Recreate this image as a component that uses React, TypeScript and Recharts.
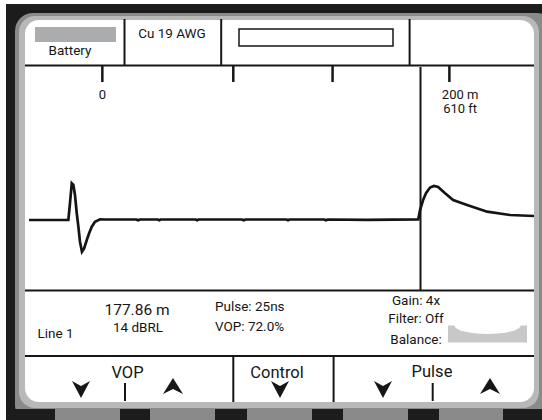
import { LineChart, Line, XAxis, YAxis, ReferenceLine } from "recharts";

// trace: distance in metres, reflection level (arbitrary units, 0 = baseline)
const distanceM = [
  -41, -19.0, -18.1, -17.1, -16.2, -15.3, -14.3, -13.4, -12.5, -11.4, -10.2, -8.7, -7.4, -5.9,
  -4.1, -1.3, 1.5, 19.0, 20.0, 21.0, 31.0, 31.8, 32.6, 52.2, 53.0, 53.8, 78.0, 79.0, 80.0, 103.0,
  103.8, 104.6, 124.0, 125.0, 126.0, 148.0, 176.6, 177.6, 179.3, 181.0, 183.2, 185.4, 187.7,
  191.6, 196.1, 203.9, 215.1, 227.9, 241.3,
];
const level = [
  -0.5, -0.5, 16.2, 36.2, 34.5, 24.5, 6.2, -7.2, -22.2, -32.2, -28.8, -20.5, -13.8, -7.2,
  -2.2, 0.2, 0, 0, -0.8, 0, 0, -0.8, 0, 0, -0.8, 0, 0, -0.8, 0, 0,
  -0.8, 0, 0, -0.8, 0, -0.3, 0.2, 9.5, 19.5, 26.5, 32, 33.5, 32.5,
  26.2, 19.5, 14.5, 7.8, 4.5, 3.5,
];

const tickMarks = [0, 73.2, 128.7, 194.0];
const scaleLabels: Record<number, string[]> = { 0: ["0"], 200: ["200 m", "610 ft"] };
const cursorM = 177.86;

const header = { cable: "Cu 19 AWG", battery: "Battery" };
const readout = { distance: "177.86 m", loss: "14 dBRL", line: "Line 1" };
const settings = ["Pulse: 25ns", "VOP: 72.0%"];
const status = ["Gain: 4x", "Filter: Off", "Balance:"];
const softKeys = ["VOP", "Control", "Pulse"];

const data = distanceM.map((d, i) => ({ d, v: level[i] }));

const FONT = "Roboto, 'Noto Sans', sans-serif";
const INK = "#161616";

function ScaleTick(props: any) {
  const { x, payload } = props;
  const val = payload.value as number;
  const labels = scaleLabels[val];
  return (
    <g>
      {tickMarks.includes(val) && (
        <line x1={x} x2={x} y1={66} y2={82} stroke={INK} strokeWidth={2.5} />
      )}
      {labels &&
        labels.map((t, i) => (
          <text
            key={t}
            x={x}
            y={94 + i * 14}
            textAnchor="middle"
            dominantBaseline="central"
            fontSize={13}
            fontFamily={FONT}
            fill={INK}
          >
            {t}
          </text>
        ))}
    </g>
  );
}

function Down({ cx, top }: { cx: number; top: number }) {
  return (
    <polygon
      points={`${cx - 9},${top} ${cx},${top + 5} ${cx + 9},${top} ${cx},${top + 17}`}
      fill={INK}
    />
  );
}

function Up({ cx, top }: { cx: number; top: number }) {
  return (
    <polygon
      points={`${cx},${top} ${cx + 10},${top + 16} ${cx},${top + 11} ${cx - 10},${top + 16}`}
      fill={INK}
    />
  );
}

function Frame() {
  const txt = (x: number, y: number, s: string, size = 13.5, anchor = "middle") => (
    <text
      x={x}
      y={y}
      textAnchor={anchor as any}
      dominantBaseline="central"
      fontSize={size}
      fontFamily={FONT}
      fill={INK}
    >
      {s}
    </text>
  );
  const blocks = [
    [6, 55],
    [120, 150],
    [215, 247],
    [312, 343],
    [408, 439],
    [503, 542],
  ];
  return (
    <svg width={542} height={420} style={{ position: "absolute", left: 0, top: 0 }}>
      <rect x={0} y={0} width={542} height={420} fill="#fff" />
      <rect x={6} y={4} width={536} height={416} fill="#1c1c1c" />
      <rect x={15} y={13} width={540} height={410} rx={18} fill="#8a8a8a" />
      <rect x={19} y={16} width={520} height={392} rx={16} fill="#b8b8b8" />
      {blocks.map(([a, b]) => (
        <rect key={a} x={a} y={409} width={b - a} height={11} fill="#1c1c1c" />
      ))}
      <rect x={25} y={20} width={509} height={382} rx={14} fill="#fff" />

      {/* header */}
      <rect x={35} y={27} width={81} height={15} fill="#aaacae" />
      {txt(70, 50, header.battery)}
      {txt(172, 33, header.cable)}
      <rect x={239} y={29} width={154} height={17} fill="none" stroke={INK} strokeWidth={1.5} />
      {[124.5, 221.2, 409.6].map((x) => (
        <line key={x} x1={x} x2={x} y1={19} y2={65} stroke={INK} strokeWidth={2} />
      ))}
      <line x1={25} x2={534} y1={65.5} y2={65.5} stroke={INK} strokeWidth={2} />

      {/* info panel */}
      <line x1={25} x2={534} y1={290.5} y2={290.5} stroke={INK} strokeWidth={2} />
      {txt(137, 309.5, readout.distance, 15.5)}
      {txt(138, 327, readout.loss)}
      {txt(55.5, 333, readout.line)}
      {txt(215, 306, settings[0], 13.5, "start")}
      {txt(215, 326, settings[1], 13.5, "start")}
      {txt(416, 299.5, status[0])}
      {txt(416, 318, status[1])}
      {txt(416, 338.5, status[2])}
      <rect x={448} y={325.5} width={79} height={17} fill="#c8c8c8" />
      <ellipse cx={487.5} cy={325.5} rx={33} ry={8.5} fill="#fff" />

      {/* soft keys */}
      <line x1={25} x2={534} y1={356} y2={356} stroke={INK} strokeWidth={2} />
      {[233.3, 333.6].map((x) => (
        <line key={x} x1={x} x2={x} y1={356} y2={402} stroke={INK} strokeWidth={2} />
      ))}
      {[125, 432.7].map((x) => (
        <line key={x} x1={x} x2={x} y1={383} y2={401} stroke={INK} strokeWidth={2} />
      ))}
      {txt(127.5, 372, softKeys[0], 16.5)}
      {txt(277, 372, softKeys[1], 16.5)}
      {txt(432, 371, softKeys[2], 16.5)}
      <Down cx={81} top={381} />
      <Up cx={173} top={378} />
      <Down cx={280} top={381} />
      <Down cx={383} top={381} />
      <Up cx={490} top={378} />
    </svg>
  );
}

export default function App() {
  return (
    <div style={{ position: "absolute", left: 0, top: 0, width: 542, height: 420 }}>
      <Frame />
      <div style={{ position: "absolute", left: 0, top: 0 }}>
        <LineChart
          width={542}
          height={420}
          data={data}
          margin={{ top: 37, right: 8, bottom: 130, left: 29 }}
        >
          <XAxis
            dataKey="d"
            type="number"
            orientation="top"
            height={30}
            domain={[-41, 241.3]}
            allowDataOverflow
            ticks={[...tickMarks, 200]}
            interval={0}
            axisLine={false}
            tickLine={false}
            tick={<ScaleTick />}
          />
          <YAxis hide type="number" domain={[-70.5, 152.5]} allowDataOverflow />
          <ReferenceLine x={cursorM} stroke={INK} strokeWidth={2} />
          <Line
            type="linear"
            dataKey="v"
            stroke="#141414"
            strokeWidth={2.7}
            dot={false}
            isAnimationActive={false}
          />
        </LineChart>
      </div>
    </div>
  );
}
